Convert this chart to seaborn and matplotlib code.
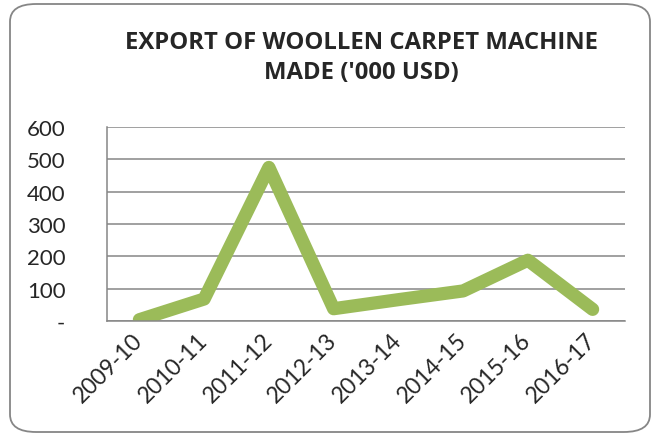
import matplotlib
matplotlib.use("Agg")
import matplotlib.pyplot as plt
import seaborn as sns
import pandas as pd
import numpy as np
from matplotlib.patches import FancyBboxPatch

years = ["2009-10", "2010-11", "2011-12", "2012-13", "2013-14", "2014-15", "2015-16", "2016-17"]
values = [4, 68, 475, 38, 66, 93, 188, 36]
ytick_vals = [0, 100, 200, 300, 400, 500, 600]
ytick_labels = ["-", "100", "200", "300", "400", "500", "600"]
title = "EXPORT OF WOOLLEN CARPET MACHINE\nMADE ('000 USD)"

sns.set_style("white")
plt.rcParams["font.family"] = ["Lato", "DejaVu Sans"]

df = pd.DataFrame({"year": years, "value": values})

fig = plt.figure(figsize=(6.53, 4.39), dpi=100)
ax = fig.add_axes([107/653, 1-322/439, (625-107)/653, (322-128)/439])

grid_c = "#868686"
sns.lineplot(data=df, x="year", y="value", ax=ax, color="#9BBB59", linewidth=9.5,
             sort=False, solid_capstyle="round", solid_joinstyle="round")

ax.set_xlim(-0.5, len(years) - 0.5)
ax.set_ylim(0, 600)
ax.set_yticks(ytick_vals)
ax.set_yticklabels(ytick_labels, fontsize=16)
ax.yaxis.grid(True, color=grid_c, linewidth=1.1)
ax.set_axisbelow(True)

ax.set_xticks(np.arange(-0.5, len(years), 1.0))
ax.set_xticklabels([""] * (len(years) + 1))
ax.set_xticks(range(len(years)), minor=True)
ax.set_xticklabels(years, minor=True, fontsize=16.5, rotation=45, ha="right",
                   rotation_mode="anchor", va="center")
ax.tick_params(axis="x", which="minor", length=0, pad=11)
ax.tick_params(axis="x", which="major", length=6, color=grid_c, width=1.1, direction="out")
ax.tick_params(axis="y", length=7, color=grid_c, width=1.1, direction="out", pad=23)
ax.set_xlabel("")
ax.set_ylabel("")

for s in ["top", "right"]:
    ax.spines[s].set_visible(False)
for s in ["left", "bottom"]:
    ax.spines[s].set_color(grid_c)
    ax.spines[s].set_linewidth(1.1)

fig.text(0.553, 1 - 58/439, title, ha="center", va="center", fontsize=17.2,
         fontweight="bold", linespacing=1.3, family=["Open Sans", "DejaVu Sans"])

border = FancyBboxPatch((10/653, 6/439), 640/653, 428/439,
                        boxstyle="round,pad=0,rounding_size=0.04",
                        transform=fig.transFigure, facecolor="none",
                        edgecolor="#868686", linewidth=1.3)
fig.patches.append(border)

fig.savefig("out.png", dpi=100)
